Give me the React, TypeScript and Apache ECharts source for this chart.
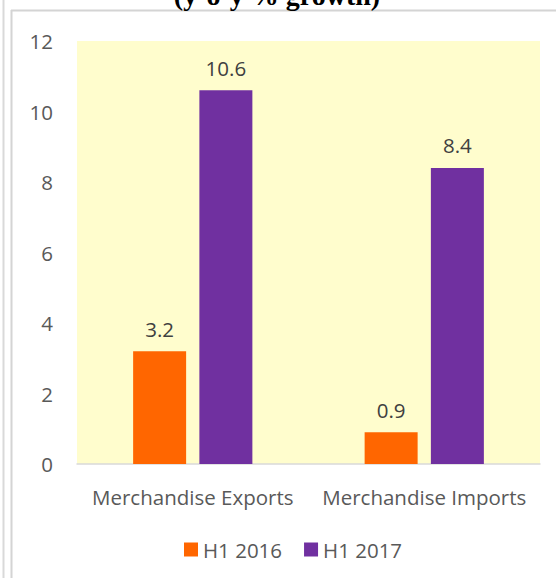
import React, { useEffect, useRef } from "react";
import * as echarts from "echarts";

const categories = ["Merchandise Exports", "Merchandise Imports"];
const seriesNames = ["H1 2016", "H1 2017"];
const h1_2016 = [3.2, 0.9];
const h1_2017 = [10.6, 8.4];
const yTicks = { min: 0, max: 12, interval: 2 };
const titleText = "(y-o-y % growth)";

export default function App() {
  const ref = useRef<HTMLDivElement>(null);
  useEffect(() => {
    document.body.style.margin = "0";
    const chart = echarts.init(ref.current!, null, { renderer: "svg" });
    const font = "'Open Sans', sans-serif";
    const fs = 20.5;
    chart.setOption({
      animation: false,
      backgroundColor: "#ffffff",
      graphic: [
        { type: "line", shape: { x1: 3.5, y1: 0, x2: 3.5, y2: 578 }, style: { stroke: "#d9d9d9", lineWidth: 2 } },
        { type: "line", shape: { x1: 11.5, y1: 10, x2: 11.5, y2: 578 }, style: { stroke: "#d4d4d4", lineWidth: 2 } },
        { type: "line", shape: { x1: 11, y1: 10.5, x2: 556, y2: 10.5 }, style: { stroke: "#d4d4d4", lineWidth: 2 } },
        {
          type: "text",
          x: 277,
          y: 9,
          style: {
            text: titleText,
            font: "bold 28px 'Liberation Serif', 'Times New Roman', serif",
            fill: "#000000",
            align: "center",
            verticalAlign: "bottom",
          },
        },
      ],
      grid: {
        left: 77,
        right: 16,
        top: 41,
        bottom: 114,
        show: true,
        backgroundColor: "#FFFDCD",
        borderWidth: 0,
      },
      legend: {
        bottom: 18,
        left: 184,
        padding: 0,
        itemWidth: 14,
        itemHeight: 14,
        itemGap: 22,
        icon: "rect",
        textStyle: { fontFamily: font, fontSize: fs, color: "#595959" },
        data: seriesNames,
      },
      xAxis: {
        type: "category",
        data: categories,
        axisLine: { lineStyle: { color: "#d9d9d9", width: 1.5 } },
        axisTick: { show: false },
        axisLabel: { fontFamily: font, fontSize: fs, color: "#595959", margin: 22, interval: 0 },
      },
      yAxis: {
        type: "value",
        min: yTicks.min,
        max: yTicks.max,
        interval: yTicks.interval,
        axisLine: { show: false },
        axisTick: { show: false },
        splitLine: { show: false },
        axisLabel: { fontFamily: font, fontSize: fs, color: "#595959", margin: 24 },
      },
      series: [
        {
          name: seriesNames[0],
          type: "bar",
          data: h1_2016,
          barWidth: 53,
          barGap: "25%",
          itemStyle: { color: "#FF6600" },
          label: { show: true, position: "top", distance: 12, fontFamily: font, fontSize: fs, color: "#404040" },
        },
        {
          name: seriesNames[1],
          type: "bar",
          data: h1_2017,
          barWidth: 53,
          barGap: "25%",
          itemStyle: { color: "#7030A0" },
          label: { show: true, position: "top", distance: 12, fontFamily: font, fontSize: fs, color: "#404040" },
        },
      ],
    });
    return () => chart.dispose();
  }, []);
  return <div ref={ref} style={{ width: 556, height: 578 }} />;
}
